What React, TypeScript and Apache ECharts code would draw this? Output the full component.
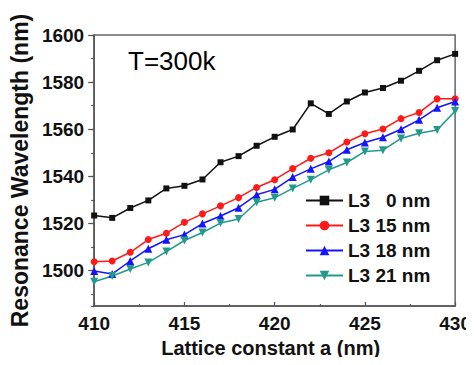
import React, { useEffect, useRef } from "react";
import * as echarts from "echarts";

const latticeA = [410, 411, 412, 413, 414, 415, 416, 417, 418, 419, 420, 421, 422, 423, 424, 425, 426, 427, 428, 429, 430];
const seriesNames = ["L3   0 nm", "L3 15 nm", "L3 18 nm", "L3 21 nm"];
const l3_0nm = [1523.4, 1522.4, 1526.6, 1529.8, 1534.9, 1536.0, 1538.7, 1546.0, 1548.6, 1553.0, 1556.8, 1559.9, 1571.0, 1566.5, 1571.8, 1575.6, 1577.5, 1580.6, 1584.8, 1589.3, 1592.0];
const l3_15nm = [1503.8, 1504.1, 1507.8, 1513.2, 1515.9, 1520.5, 1524.1, 1527.5, 1531.0, 1535.3, 1538.6, 1543.3, 1547.7, 1550.0, 1554.6, 1558.1, 1560.1, 1564.5, 1567.1, 1572.9, 1572.9];
const l3_18nm = [1499.9, 1498.6, 1504.1, 1509.3, 1513.1, 1515.3, 1520.0, 1523.2, 1526.7, 1532.2, 1534.5, 1539.7, 1543.2, 1546.3, 1551.3, 1554.4, 1556.6, 1560.0, 1564.0, 1569.1, 1571.8];
const l3_21nm = [1495.3, 1497.7, 1500.7, 1503.5, 1508.1, 1512.8, 1516.2, 1520.2, 1521.9, 1529.0, 1530.9, 1534.9, 1538.6, 1542.8, 1545.9, 1550.6, 1551.1, 1556.1, 1558.3, 1559.7, 1567.7];

const xName = "Lattice constant a (nm)";
const yName = "Resonance Wavelength (nm)";
const annotation = "T=300k";

const FONT = "'Liberation Sans', Arial, sans-serif";

export default function App() {
  const ref = useRef<HTMLDivElement>(null);
  useEffect(() => {
    if (!ref.current) return;
    const chart = echarts.init(ref.current, undefined, { renderer: "svg" });
    const pairs = (vals: number[]) => latticeA.map((a, i) => [a, vals[i]]);
    const styles = [
      { color: "#111111", symbol: "rect", size: 6, rotate: 0, data: l3_0nm },
      { color: "#ff1a1a", symbol: "circle", size: 7, rotate: 0, data: l3_15nm },
      { color: "#1414ff", symbol: "triangle", size: 8, rotate: 0, data: l3_18nm },
      { color: "#23998e", symbol: "triangle", size: 8, rotate: 180, data: l3_21nm },
    ];
    chart.setOption({
      animation: false,
      textStyle: { fontFamily: FONT },
      grid: {
        left: 93,
        right: 18,
        top: 35,
        bottom: 59,
        show: true,
        borderColor: "#666",
        borderWidth: 1.5,
        backgroundColor: "transparent",
      },
      legend: {
        orient: "vertical",
        left: 305,
        top: 191,
        padding: 0,
        itemWidth: 37,
        itemHeight: 12,
        itemGap: 6,
        data: seriesNames,
        textStyle: { fontSize: 19, fontWeight: "bold", color: "#111", fontFamily: FONT },
      },
      xAxis: {
        type: "value",
        min: 410,
        max: 430,
        interval: 5,
        name: xName,
        nameLocation: "middle",
        nameGap: 23,
        nameTextStyle: { fontSize: 20, fontWeight: "bold", color: "#111", verticalAlign: "top", padding: [0, 8, 0, 0] },
        axisLine: { lineStyle: { color: "#555", width: 1.5 } },
        axisTick: { inside: true, length: 4, lineStyle: { color: "#555", width: 1.2 } },
        minorTick: { show: true, splitNumber: 2, length: 2, lineStyle: { color: "#555", width: 1.2 } },
        axisLabel: { fontSize: 19, fontWeight: "bold", color: "#111", margin: 8 },
        splitLine: { show: false },
        minorSplitLine: { show: false },
      },
      yAxis: [
        {
          type: "value",
          min: 1485,
          max: 1600,
          splitNumber: 5,
          minInterval: 20,
          maxInterval: 20,
          position: "left",
          name: yName,
          nameLocation: "middle",
          nameGap: 61,
          nameTextStyle: { fontSize: 23, fontWeight: "bold", color: "#111" },
          axisLine: { lineStyle: { color: "#555", width: 1.5 } },
          axisTick: { inside: false, length: 6, lineStyle: { color: "#555", width: 1.2 } },
          axisLabel: {
            fontSize: 19,
            fontWeight: "bold",
            color: "#111",
            margin: 10,
            showMinLabel: false,
            formatter: (v: number) => String(v),
          },
          splitLine: { show: false },
        },
        {
          type: "value",
          min: 1485,
          max: 1600,
          splitNumber: 12,
          minInterval: 10,
          maxInterval: 10,
          position: "left",
          axisLine: { show: false },
          axisTick: { inside: false, length: 3, lineStyle: { color: "#555", width: 1.2 } },
          axisLabel: { show: false },
          splitLine: { show: false },
        },
      ],
      graphic: [
        {
          type: "text",
          left: 128,
          top: 48,
          style: { text: annotation, fontSize: 26, fill: "#000", fontFamily: FONT },
        },
      ],
      series: styles.map((s, i) => ({
        name: seriesNames[i],
        type: "line",
        yAxisIndex: 0,
        data: pairs(s.data),
        symbol: s.symbol,
        symbolSize: s.size,
        symbolRotate: s.rotate,
        showSymbol: true,
        lineStyle: { color: s.color, width: 1.5 },
        itemStyle: { color: s.color },
        color: s.color,
      })),
    });
    return () => chart.dispose();
  }, []);
  return <div ref={ref} style={{ width: 474, height: 365, margin: -8 }} />;
}
